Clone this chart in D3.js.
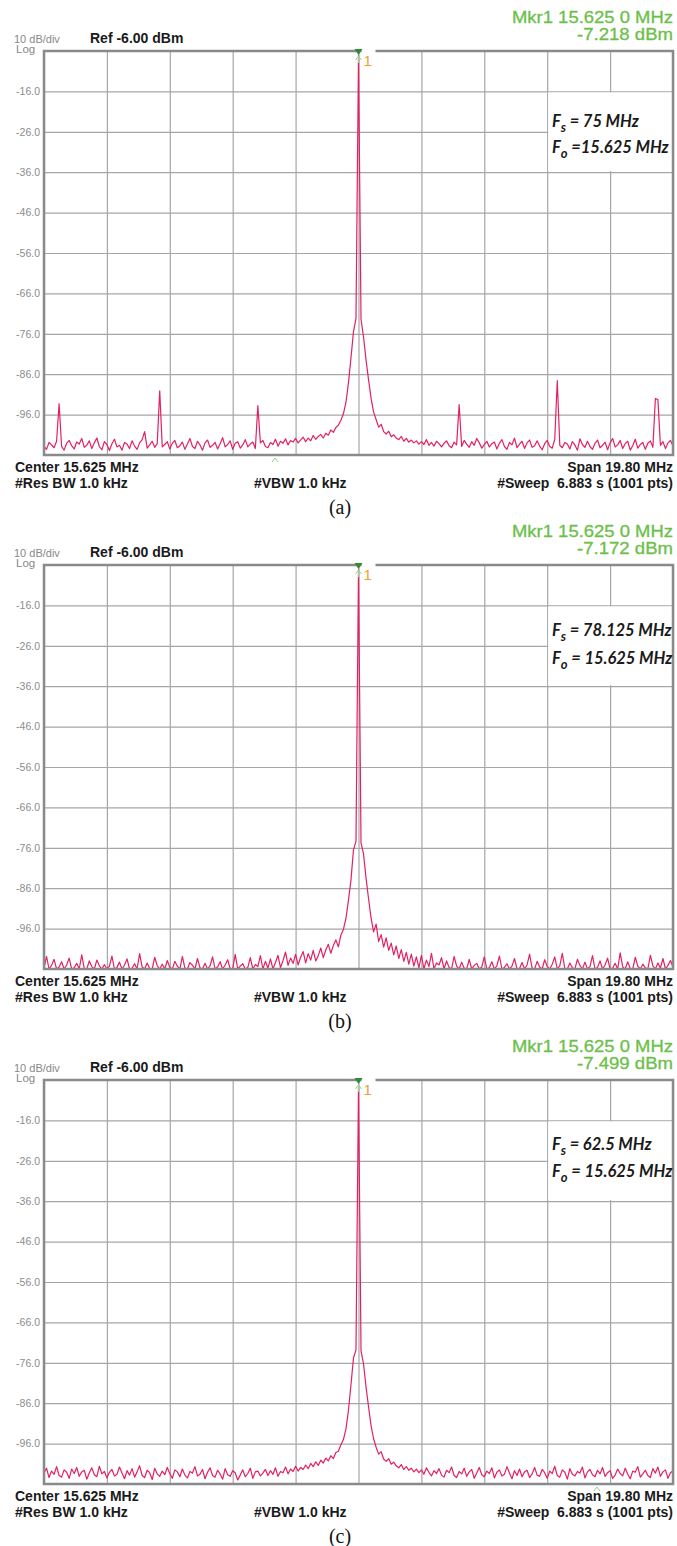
<!DOCTYPE html>
<html>
<head>
<meta charset="utf-8">
<script src="https://cdn.jsdelivr.net/npm/d3@7"></script>
<style>
  body { margin: 0; background: #fff; }
  text { font-family: "Liberation Sans", Arial, sans-serif; }
</style>
</head>
<body>
<div id="chart-area"></div>
<script>
// analyzer settings shared by the three captures
var centerMHz = 15.625;
var spanMHz = 19.8;
var refLevel = -6.0;
var bottomLevel = -106.0;
var yTicks = [-16, -26, -36, -46, -56, -66, -76, -86, -96];

// traces, 251 points across the span (dBm)
var traceA = [
  -103.8,-104.6,-102.9,-103.5,-104.2,-102.6,-93.3,-103.9,-104.8,-103.1,
  -102.4,-103.7,-104.5,-102.8,-103.3,-101.9,-104.1,-103.6,-102.5,-104.4,
  -103.0,-101.8,-103.9,-104.7,-102.7,-103.4,-104.9,-103.2,-102.1,-104.0,
  -103.6,-104.8,-102.9,-103.3,-104.4,-102.5,-103.8,-104.6,-103.0,-102.2,
  -100.2,-104.3,-103.5,-102.6,-104.1,-103.2,-90.1,-104.0,-103.4,-102.7,
  -104.5,-103.1,-102.4,-104.2,-103.7,-102.8,-104.6,-103.3,-101.9,-103.9,
  -104.4,-102.6,-103.5,-104.8,-103.0,-102.3,-104.1,-103.6,-102.9,-104.5,
  -103.2,-101.7,-104.0,-103.4,-102.5,-104.6,-103.1,-102.7,-104.3,-103.5,
  -102.2,-104.0,-103.3,-102.8,-104.4,-93.8,-103.0,-102.4,-103.9,-104.2,
  -102.9,-103.4,-102.1,-103.8,-102.6,-103.1,-102.0,-103.5,-102.4,-102.8,
  -101.9,-103.0,-102.3,-101.6,-102.7,-101.8,-102.5,-101.2,-102.1,-101.4,
  -100.9,-101.8,-100.6,-101.1,-99.8,-100.4,-99.2,-98.6,-97.4,-95.8,
  -93.0,-88.2,-82.0,-75.5,-72.2,-7.2,-72.4,-76.8,-82.5,-87.4,
  -92.0,-95.4,-97.2,-99.1,-98.4,-100.2,-100.8,-100.1,-101.5,-101.0,
  -101.8,-102.2,-101.4,-102.6,-101.9,-102.8,-102.3,-103.0,-102.5,-103.3,
  -102.7,-103.4,-102.2,-103.6,-102.9,-103.8,-102.6,-103.2,-104.0,-103.1,
  -102.5,-103.7,-104.2,-102.8,-103.5,-93.5,-103.9,-102.4,-103.3,-104.1,
  -102.7,-103.6,-101.9,-103.0,-104.3,-103.4,-102.6,-104.0,-103.2,-102.8,
  -104.5,-103.1,-102.2,-103.9,-104.6,-102.9,-103.5,-101.8,-104.2,-103.3,
  -102.6,-104.4,-103.0,-102.3,-104.1,-103.7,-102.5,-103.8,-104.7,-103.2,
  -102.4,-103.9,-104.3,-102.1,-87.6,-103.6,-104.2,-102.9,-103.3,-104.5,
  -102.7,-103.5,-104.8,-102.0,-103.4,-104.1,-102.6,-103.9,-104.6,-103.1,
  -102.3,-104.2,-103.6,-102.8,-104.7,-103.0,-101.9,-104.0,-103.5,-102.4,
  -104.4,-103.2,-102.6,-104.8,-103.7,-102.1,-104.3,-103.4,-102.9,-104.6,
  -103.1,-102.5,-104.1,-92.0,-92.3,-103.6,-102.7,-104.4,-103.0,-102.4,
  -103.8
];

var traceB = [
  -105.8,-102.9,-106.4,-105.1,-103.6,-106.2,-105.5,-104.2,-106.8,-105.0,
  -103.3,-106.1,-105.7,-104.6,-106.5,-102.5,-105.9,-106.3,-104.0,-105.4,
  -106.6,-103.8,-105.2,-106.0,-104.9,-106.7,-105.3,-102.8,-106.2,-105.6,
  -104.3,-106.4,-105.0,-103.5,-106.8,-105.8,-104.7,-106.1,-102.2,-105.5,
  -106.3,-104.5,-105.9,-106.6,-103.1,-105.2,-106.0,-104.8,-106.5,-103.9,
  -105.6,-106.2,-104.1,-105.3,-106.7,-102.9,-105.8,-106.1,-104.4,-105.1,
  -106.4,-103.4,-105.7,-106.0,-104.6,-106.6,-105.2,-103.0,-106.3,-105.5,
  -104.2,-106.5,-105.0,-103.7,-106.2,-105.9,-102.4,-106.4,-105.3,-104.7,
  -106.1,-105.6,-103.2,-106.7,-104.9,-105.4,-102.7,-106.0,-104.1,-105.8,
  -103.5,-106.2,-104.4,-102.6,-105.7,-103.9,-101.8,-105.1,-103.3,-104.6,
  -102.4,-105.0,-103.1,-101.7,-104.5,-102.2,-103.8,-101.4,-104.0,-102.7,
  -100.8,-103.2,-101.3,-99.9,-102.1,-100.2,-98.8,-100.5,-97.6,-96.2,
  -93.5,-89.0,-84.0,-76.5,-74.4,-7.2,-74.8,-77.5,-83.5,-88.6,
  -93.4,-96.8,-94.9,-99.2,-97.5,-100.6,-98.3,-101.4,-99.6,-102.5,
  -100.3,-103.4,-101.2,-104.1,-101.9,-104.8,-102.3,-105.3,-103.0,-105.7,
  -102.6,-106.1,-103.8,-105.4,-102.1,-106.3,-104.5,-105.0,-103.2,-106.4,
  -104.0,-105.6,-106.2,-102.9,-105.3,-106.5,-104.3,-105.8,-106.0,-103.6,
  -106.3,-105.1,-104.6,-106.7,-105.5,-103.0,-106.1,-105.7,-104.2,-106.4,
  -105.2,-102.8,-106.0,-105.6,-104.7,-106.5,-105.3,-103.4,-106.2,-105.9,
  -104.4,-106.6,-105.0,-102.3,-105.8,-106.3,-104.1,-105.5,-106.8,-103.7,
  -105.4,-106.1,-104.8,-103.0,-106.4,-105.2,-102.1,-105.9,-106.2,-104.5,
  -105.7,-106.6,-103.6,-105.1,-106.0,-104.3,-106.5,-105.4,-102.7,-106.1,
  -105.6,-104.0,-106.3,-105.0,-103.3,-106.7,-105.8,-104.6,-106.2,-102.0,
  -105.5,-106.4,-104.2,-105.9,-106.1,-103.1,-105.3,-106.6,-104.8,-105.7,
  -106.3,-102.6,-105.2,-106.0,-104.5,-105.8,-103.4,-106.5,-105.1,-103.9,
  -105.6
];

var traceC = [
  -103.2,-102.1,-104.4,-102.8,-103.6,-101.7,-103.9,-104.3,-102.5,-103.1,
  -104.6,-102.3,-103.4,-101.9,-104.1,-103.0,-102.6,-104.8,-103.3,-102.0,
  -103.7,-104.2,-101.6,-103.5,-102.9,-104.5,-103.1,-102.4,-104.0,-103.6,
  -101.8,-103.3,-104.7,-102.7,-103.8,-102.2,-104.3,-103.0,-101.5,-103.9,
  -104.4,-102.6,-103.2,-104.9,-102.1,-103.5,-104.1,-102.8,-103.7,-101.9,
  -103.4,-104.6,-102.5,-103.0,-104.2,-102.3,-103.8,-104.5,-102.9,-103.3,
  -101.7,-104.0,-103.6,-102.4,-104.7,-103.1,-102.0,-103.9,-104.3,-102.6,
  -103.5,-104.8,-102.2,-103.7,-104.1,-102.7,-103.2,-105.0,-103.8,-102.5,
  -104.2,-103.4,-102.1,-104.6,-103.0,-102.8,-104.0,-103.3,-102.4,-103.9,
  -102.7,-103.6,-102.0,-104.1,-102.9,-103.2,-101.8,-103.5,-102.3,-102.9,
  -101.6,-102.8,-101.9,-102.4,-101.3,-102.2,-100.9,-101.7,-100.5,-101.4,
  -100.1,-100.8,-99.6,-100.3,-99.0,-99.7,-98.2,-97.9,-96.3,-95.0,
  -92.4,-87.8,-81.5,-74.8,-72.8,-7.5,-73.0,-76.3,-82.0,-86.9,
  -91.6,-94.8,-96.9,-98.6,-98.0,-99.8,-100.4,-99.7,-101.1,-100.6,
  -101.5,-102.0,-101.2,-102.4,-101.7,-102.6,-102.1,-103.0,-102.3,-103.2,
  -102.5,-103.6,-102.0,-103.1,-104.0,-102.7,-103.4,-102.2,-103.8,-104.3,
  -102.6,-103.2,-101.8,-103.9,-104.4,-102.9,-103.5,-102.1,-104.1,-103.0,
  -102.4,-104.6,-103.3,-101.9,-103.7,-104.2,-102.8,-103.4,-102.0,-104.5,
  -103.1,-102.5,-104.0,-103.6,-101.7,-103.3,-104.7,-102.7,-103.9,-102.3,
  -104.2,-103.0,-102.6,-104.4,-103.5,-101.9,-103.8,-104.1,-102.4,-103.2,
  -104.6,-102.8,-103.4,-101.6,-103.9,-104.3,-102.5,-103.1,-104.8,-102.2,
  -103.6,-104.0,-102.9,-103.3,-101.8,-104.5,-103.0,-102.4,-103.7,-104.2,
  -102.6,-103.5,-101.9,-104.1,-103.2,-102.7,-104.6,-103.8,-102.3,-103.4,
  -104.0,-102.1,-103.6,-104.7,-102.8,-103.1,-101.7,-104.3,-103.5,-102.6,
  -103.9,-104.4,-102.2,-103.3,-101.8,-104.1,-103.0,-102.5,-104.6,-103.2,
  -102.7
];

var traces = [traceA, traceB, traceC];
var mkrLevels = [-7.218, -7.172, -7.499];
var fsLabels = [" = 75 MHz", " = 78.125 MHz", " = 62.5 MHz"];
var foLabels = [" =15.625 MHz", " = 15.625 MHz", " = 15.625 MHz"];
var captions = ["(a)", "(b)", "(c)"];
var caretFreqs = [13.0, null, 23.13];

// layout
var width = 677, height = 1546;
var margin = {left: 44, right: 4};
var plotW = width - margin.left - margin.right;
var plotH = 404;
var panelTops = [51, 565, 1080];
var fsY = [76, 71, 70];
var foY = [102, 99, 97];

var svg = d3.select('#chart-area')
    .append('svg')
        .attr('width', width)
        .attr('height', height)
        .style('display', 'block');

// analyzer prints a plain hyphen, not the unicode minus
var loc = d3.formatLocale({decimal: ".", thousands: ",", grouping: [3], currency: ["", ""], minus: "-"});
var fmt1 = loc.format(".1f");
var fmt2 = loc.format(".2f");
var fmt3 = loc.format(".3f");

traces.forEach(function (trace, p) {
    var top = panelTops[p];
    var f0 = centerMHz - spanMHz / 2;
    var step = spanMHz / (trace.length - 1);

    var x = d3.scaleLinear().domain([f0, f0 + spanMHz]).range([0, plotW]);
    var y = d3.scaleLinear().domain([bottomLevel, refLevel]).range([plotH, 0]).clamp(true);

    var g = svg.append('g')
        .attr('transform', 'translate(' + margin.left + ',' + top + ')');

    // vertical grid, 10 divisions
    var xTicks = d3.range(11).map(function (k) { return f0 + k * spanMHz / 10; });
    var xGrid = g.append('g')
        .attr('transform', 'translate(0,' + plotH + ')')
        .call(d3.axisBottom(x).tickValues(xTicks).tickSize(-plotH).tickFormat(''));
    xGrid.select('.domain').remove();
    xGrid.selectAll('line').attr('stroke', '#a6a6a6').attr('stroke-width', 1.2);

    // horizontal grid with level labels
    var yAxis = g.append('g')
        .call(d3.axisLeft(y).tickValues(yTicks).tickSize(-plotW).tickPadding(4).tickFormat(fmt1));
    yAxis.select('.domain').remove();
    yAxis.selectAll('line').attr('stroke', '#a6a6a6').attr('stroke-width', 1.2);
    yAxis.selectAll('text')
        .attr('fill', '#8c8c8c')
        .style('font-size', '10.5px')
        .style('font-family', '"Liberation Sans", Arial, sans-serif');

    // white note box over the grid
    g.append('rect')
        .attr('x', x(xTicks[8]) + 1)
        .attr('y', y(-16) + 1)
        .attr('width', plotW - x(xTicks[8]) - 2)
        .attr('height', y(-36) - y(-16) - 2)
        .attr('fill', '#fff');

    // trace
    var line = d3.line()
        .x(function (d, i) { return x(f0 + i * step); })
        .y(function (d) { return y(d); });
    g.append('path')
        .datum(trace)
        .attr('d', line)
        .attr('fill', 'none')
        .attr('stroke', '#e3215f')
        .attr('stroke-width', 1.2)
        .attr('stroke-linejoin', 'round');

    // frame, with a gap in the top edge for the marker number
    var xc = x(centerMHz);
    g.append('path')
        .attr('d', 'M' + (xc + 17) + ',0H' + plotW + 'V' + plotH + 'H0V0H' + (xc + 3))
        .attr('fill', 'none')
        .attr('stroke', '#8a8a8a')
        .attr('stroke-width', 2.5);

    // marker 1
    g.append('path')
        .attr('d', 'M' + (xc - 4) + ',-2L' + (xc + 4) + ',-2L' + xc + ',4Z')
        .attr('fill', '#2e8b3a');
    g.append('path')
        .attr('d', 'M' + (xc - 3) + ',9L' + xc + ',5L' + (xc + 3) + ',9M' + xc + ',5V12')
        .attr('fill', 'none')
        .attr('stroke', '#9bd39b')
        .attr('stroke-width', 1);
    g.append('text')
        .attr('x', xc + 5)
        .attr('y', 15)
        .attr('fill', '#f0a030')
        .style('font-size', '15px')
        .text('1');

    if (caretFreqs[p] !== null) {
        var xk = x(caretFreqs[p]);
        g.append('path')
            .attr('d', 'M' + (xk - 3) + ',' + (plotH + 7) + 'L' + xk + ',' + (plotH + 3) + 'L' + (xk + 3) + ',' + (plotH + 7))
            .attr('fill', 'none')
            .attr('stroke', '#8fd08f')
            .attr('stroke-width', 1);
    }

    // header texts
    svg.append('text').attr('x', 14).attr('y', top - 8)
        .attr('fill', '#888').style('font-size', '11px').text('10 dB/div');
    svg.append('text').attr('x', 16).attr('y', top + 2)
        .attr('fill', '#888').style('font-size', '11.5px').text('Log');
    svg.append('text').attr('x', 90).attr('y', top - 8)
        .attr('fill', '#1a1a1a').style('font-size', '14px').style('font-weight', 'bold')
        .text('Ref ' + fmt2(refLevel) + ' dBm');

    svg.append('text').attr('x', width - 4).attr('y', top - 28)
        .attr('text-anchor', 'end').attr('fill', '#6cbf4a').style('font-size', '16.5px')
        .style('stroke', '#6cbf4a').style('stroke-width', 0.3)
        .attr('textLength', 161).attr('lengthAdjust', 'spacingAndGlyphs')
        .text('Mkr1 ' + centerMHz + ' 0 MHz');
    svg.append('text').attr('x', width - 4).attr('y', top - 11)
        .attr('text-anchor', 'end').attr('fill', '#6cbf4a').style('font-size', '16.5px')
        .style('stroke', '#6cbf4a').style('stroke-width', 0.3)
        .attr('textLength', 96).attr('lengthAdjust', 'spacingAndGlyphs')
        .text(fmt3(mkrLevels[p]) + ' dBm');

    // Fs / Fo note
    var note = svg.append('g')
        .style('font-style', 'italic')
        .style('font-weight', 'bold')
        .style('font-size', '16.5px')
        .attr('fill', '#1a1a1a');
    [['s', fsLabels[p], fsY[p]], ['o', foLabels[p], foY[p]]].forEach(function (n) {
        var t = note.append('text').attr('x', 552).attr('y', top + n[2])
            .style('font-family', 'Lato, "Open Sans", sans-serif');
        t.append('tspan').text('F');
        t.append('tspan').attr('dy', 5).style('font-size', '13px').text(n[0]);
        t.append('tspan').attr('dy', -5).text(n[1]);
    });

    // footer texts
    var foot = [
        {x: 15, y: 421, a: 'start', t: 'Center ' + centerMHz + ' MHz'},
        {x: 15, y: 437, a: 'start', t: '#Res BW 1.0 kHz'},
        {x: 254, y: 437, a: 'start', t: '#VBW 1.0 kHz'},
        {x: width - 4, y: 421, a: 'end', t: 'Span ' + fmt2(spanMHz) + ' MHz'},
        {x: width - 4, y: 437, a: 'end', t: '#Sweep  6.883 s (1001 pts)'}
    ];
    foot.forEach(function (f) {
        svg.append('text').attr('x', f.x).attr('y', top + f.y)
            .attr('text-anchor', f.a).attr('fill', '#1a1a1a')
            .style('font-size', '14px').style('font-weight', 'bold')
            .style('white-space', 'pre')
            .text(f.t);
    });

    svg.append('text').attr('x', 340).attr('y', top + 463)
        .attr('text-anchor', 'middle').attr('fill', '#111')
        .style('font-family', '"Liberation Serif", "Times New Roman", serif')
        .style('font-size', '20px')
        .text(captions[p]);
});
</script>
</body>
</html>
